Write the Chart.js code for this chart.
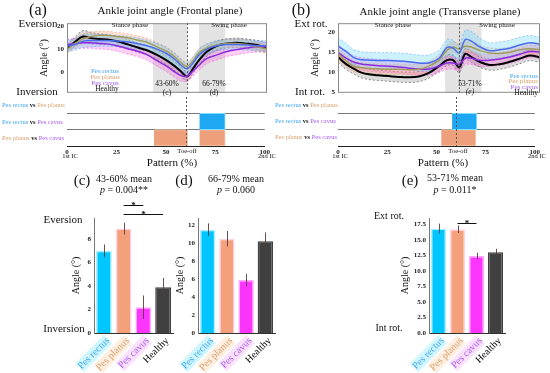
<!DOCTYPE html>
<html>
<head>
<meta charset="utf-8">
<script src="https://cdn.jsdelivr.net/npm/chart.js@4"></script>
<style>
body{margin:0;background:#fff;}
#fig{position:relative;width:550px;height:373px;overflow:hidden;font-family:"Liberation Serif","Times New Roman",serif;}
canvas{position:absolute;}
.t{position:absolute;white-space:nowrap;transform:translate(-50%,-50%);color:#111;line-height:1;}
.l{transform:translate(0,-50%);}
.r{transform:translate(-100%,-50%);}
.s{font-size:6.5px;}
.bl{color:#3da5f2}.or{color:#d9a06e}.pu{color:#a45cf5}
</style>
</head>
<body>
<div id="fig">
  <canvas id="angA" width="236" height="84" style="left:36px;top:16px"></canvas>
  <canvas id="stripA" width="236" height="66" style="left:36px;top:97px"></canvas>
  <canvas id="angB" width="235" height="84" style="left:307px;top:16px"></canvas>
  <canvas id="stripB" width="235" height="66" style="left:307px;top:97px"></canvas>
  <canvas id="barC" width="105" height="178" style="left:70px;top:195px"></canvas>
  <canvas id="barD" width="103" height="178" style="left:174px;top:195px"></canvas>
  <canvas id="barE" width="108" height="178" style="left:399px;top:195px"></canvas>

  <div class="t" style="left:38px;top:10px;font-size:16px">(a)</div>
  <div class="t" style="left:170px;top:10px;font-size:11px">Ankle joint angle (Frontal plane)</div>
  <div class="t" style="left:301px;top:10px;font-size:16px">(b)</div>
  <div class="t" style="left:440px;top:11px;font-size:11px">Ankle joint angle (Transverse plane)</div>
  <div class="t" style="left:38px;top:23px;font-size:11px">Eversion</div>
  <div class="t" style="left:37px;top:91px;font-size:11px">Inversion</div>
  <div class="t" style="left:311px;top:23px;font-size:11px">Ext rot.</div>
  <div class="t" style="left:310px;top:91px;font-size:11px">Int rot.</div>

  <div class="t" style="left:130px;top:25px;font-size:7px">Stance phase</div>
  <div class="t" style="left:229px;top:25px;font-size:7px">Swing phase</div>
  <div class="t" style="left:393px;top:25px;font-size:7px">Stance phase</div>
  <div class="t" style="left:497px;top:25px;font-size:7px">Swing phase</div>

  <div class="t bl" style="left:105px;top:71px;font-size:7px">Pes rectus</div>
  <div class="t or" style="left:105px;top:77px;font-size:7px">Pes planus</div>
  <div class="t pu" style="left:105px;top:83px;font-size:7px">Pes cavus</div>
  <div class="t" style="left:107px;top:89px;font-size:7.5px">Healthy</div>
  <div class="t r bl" style="left:538px;top:76px;font-size:7px">Pes rectus</div>
  <div class="t r or" style="left:538px;top:81px;font-size:7px">Pes planus</div>
  <div class="t r pu" style="left:538px;top:87px;font-size:7px">Pes cavus</div>
  <div class="t r" style="left:538px;top:93px;font-size:7.5px">Healthy</div>

  <div class="t" style="left:167px;top:84px;font-size:7.5px">43-60%</div>
  <div class="t" style="left:167px;top:93px;font-size:7.5px">(c)</div>
  <div class="t" style="left:214px;top:84px;font-size:7.5px">66-79%</div>
  <div class="t" style="left:214px;top:93px;font-size:7.5px">(d)</div>
  <div class="t" style="left:470px;top:84px;font-size:7.5px">53-71%</div>
  <div class="t" style="left:470px;top:92px;font-size:7.5px"><i>(e)</i></div>

  <div class="t l s" style="left:2px;top:105px"><span class="bl">Pes rectus</span> <b>vs</b> <span class="or">Pes planus</span></div>
  <div class="t l s" style="left:2px;top:122px"><span class="bl">Pes rectus</span> <b>vs</b> <span class="pu">Pes cavus</span></div>
  <div class="t l s" style="left:2px;top:138px"><span class="or">Pes planus</span> <b>vs</b> <span class="pu">Pes cavus</span></div>
  <div class="t l s" style="left:275px;top:105px"><span class="bl">Pes rectus</span> <b>vs</b> <span class="or">Pes planus</span></div>
  <div class="t l s" style="left:275px;top:121px"><span class="bl">Pes rectus</span> <b>vs</b> <span class="pu">Pes cavus</span></div>
  <div class="t l s" style="left:275px;top:137px"><span class="or">Pes planus</span> <b>vs</b> <span class="pu">Pes cavus</span></div>

  <div class="t s" style="left:70px;top:156px">1st IC</div>
  <div class="t s" style="left:187px;top:151px">Toe-off</div>
  <div class="t s" style="left:267px;top:156px">2nd IC</div>
  <div class="t s" style="left:340px;top:156px">1st IC</div>
  <div class="t s" style="left:458px;top:151px">Toe-off</div>
  <div class="t s" style="left:537px;top:156px">2nd IC</div>
  <div class="t" style="left:172px;top:162px;font-size:11px">Pattern (%)</div>
  <div class="t" style="left:443px;top:162px;font-size:11px">Pattern (%)</div>

  <div class="t" style="left:82px;top:180px;font-size:15px">(c)</div>
  <div class="t" style="left:124px;top:179px;font-size:10px">43-60% mean</div>
  <div class="t" style="left:124px;top:190px;font-size:10px"><i>p</i> = 0.004**</div>
  <div class="t" style="left:184px;top:180px;font-size:15px">(d)</div>
  <div class="t" style="left:236px;top:179px;font-size:10px">66-79% mean</div>
  <div class="t" style="left:236px;top:190px;font-size:10px"><i>p</i> = 0.060</div>
  <div class="t" style="left:410px;top:180px;font-size:15px">(e)</div>
  <div class="t" style="left:455px;top:178px;font-size:10px">53-71% mean</div>
  <div class="t" style="left:455px;top:190px;font-size:10px"><i>p</i> = 0.011*</div>

  <div class="t" style="left:63px;top:219px;font-size:11px">Eversion</div>
  <div class="t" style="left:64px;top:328px;font-size:11px">Inversion</div>
  <div class="t" style="left:389px;top:216px;font-size:10px">Ext rot.</div>
  <div class="t" style="left:389px;top:328px;font-size:10px">Int rot.</div>
</div>

<script>
// gait cycle samples (% of pattern)
const pct = [0, 4, 8, 12, 16, 20, 25, 30, 35, 40, 45, 50, 54, 57, 60, 63, 66, 70, 75, 80, 85, 90, 95, 100];

// (a) frontal plane, mean and SD
const frontRectus    = [11.5, 12, 13.5, 13.8, 13.8, 13.8, 13.5, 13.2, 12.5, 11.5, 10, 8, 5.5, 3, 1.5, 4, 7.5, 10, 11.5, 12, 12, 11.8, 11.5, 11.5];
const frontRectusSd  = [2.5, 2.5, 2.8, 2.8, 2.6, 2.5, 2.4, 2.4, 2.4, 2.4, 2.5, 2.5, 2.5, 2.4, 2.3, 2.5, 2.5, 2.3, 2.2, 2.2, 2.2, 2.2, 2.3, 2.4];
const frontPlanus    = [9.8, 12.5, 14.5, 15.5, 16, 16, 15.5, 15, 14, 13, 11, 9, 6.5, 4, 2.5, 5, 8.5, 10.5, 11.8, 12.5, 12.5, 12, 11, 10];
const frontPlanusSd  = [1.8, 2, 2.2, 2, 1.9, 1.8, 1.8, 1.8, 1.8, 1.8, 1.8, 1.8, 1.8, 1.8, 1.8, 1.8, 1.8, 1.8, 1.8, 1.9, 2, 2, 2, 1.9];
const frontCavus     = [12, 12.5, 12.8, 12.8, 12.5, 12.3, 11.5, 10.3, 9.2, 7.6, 5, 2.5, 0, -1.5, -1.8, 0.5, 3, 6, 7.5, 9, 9.8, 10.5, 11, 11];
const frontCavusSd   = [2.2, 2.2, 2.4, 2.4, 2.4, 2.4, 2.4, 2.4, 2.4, 2.4, 2.4, 2.4, 2.4, 2.4, 2.2, 2.2, 2.2, 2.2, 2.2, 2.2, 2.2, 2.2, 2.2, 2.2];
const frontHealthy   = [10.2, 13.2, 15.5, 14.8, 14.4, 14.2, 13.4, 12.2, 10.8, 9.5, 7.5, 5, 2.5, 0.3, -1.9, 1.5, 5.2, 9, 11.5, 12.5, 12.8, 12.4, 11.8, 10.7];
const frontHealthySd = [1.8, 2, 2.6, 2.5, 2.3, 2.2, 2.1, 2, 2, 2, 2, 2, 2, 2, 2, 2, 2, 2, 2, 2, 2, 2, 2, 2];

// (b) transverse plane, mean and SD
const transRectus    = [16.6, 15.2, 13.6, 13.1, 13, 12.9, 12.9, 12.8, 12.6, 12.3, 12.3, 13.5, 16.2, 16, 14.8, 18.2, 17.8, 16.4, 15.4, 15.6, 16, 16.8, 17.4, 17];
const transRectusSd  = [2, 2, 2, 2, 2, 2, 2, 2, 2, 2, 2, 2, 2, 2, 2, 2.3, 2.4, 2.2, 2, 2, 2, 2, 1.8, 1.8];
const transPlanus    = [14.7, 12.8, 11.4, 11.1, 10.9, 10.8, 10.7, 10.7, 10.6, 10.7, 11.5, 13, 15.5, 16.3, 15.8, 16.5, 16.3, 15.5, 14.8, 14.7, 15, 15.6, 15.9, 15.6];
const transPlanusSd  = [1.4, 1.4, 1.3, 1.3, 1.3, 1.3, 1.3, 1.3, 1.3, 1.3, 1.3, 1.4, 1.4, 1.4, 1.4, 1.4, 1.4, 1.4, 1.3, 1.3, 1.3, 1.3, 1.3, 1.3];
const transCavus     = [15, 13.5, 12.5, 12, 11.8, 11.6, 11.5, 11.3, 11, 10.8, 10.8, 11.5, 12.3, 12.3, 12, 13.5, 13.5, 13, 13, 13.3, 13.8, 14.5, 15.2, 15];
const transCavusSd   = [1.6, 1.6, 1.6, 1.6, 1.6, 1.6, 1.6, 1.6, 1.6, 1.6, 1.6, 1.6, 1.6, 1.6, 1.6, 1.6, 1.6, 1.6, 1.6, 1.6, 1.6, 1.6, 1.6, 1.6];
const transHealthy   = [13.8, 12, 10.8, 9.8, 9.4, 9.2, 9, 8.8, 8.7, 8.9, 9.8, 11.5, 13, 13, 11.2, 14.6, 13.8, 12.6, 11.8, 12, 12.6, 13.4, 14.2, 13.7];
const transHealthySd = [1.3, 1.3, 1.3, 1.3, 1.3, 1.3, 1.3, 1.3, 1.3, 1.3, 1.3, 1.3, 1.3, 1.3, 1.3, 1.3, 1.3, 1.3, 1.3, 1.3, 1.3, 1.3, 1.3, 1.3];

const frontTicks = [0, 10, 20];
const transTicks = [5, 10, 15, 20];
const patternTicks = [0, 25, 50, 75, 100];
const toeOff = 60;
const frontShade = [[43, 60], [66, 79]];
const transShade = [[53, 71]];

// significance strips (SPM clusters, % of pattern)
const stripRows = ['Pes rectus vs Pes planus', 'Pes rectus vs Pes cavus', 'Pes planus vs Pes cavus'];
const frontRectusVsCavus = [[67, 80]];
const frontPlanusVsCavus = [[44, 61], [67, 80]];
const transRectusVsCavus = [[58, 70.5]];
const transPlanusVsCavus = [[52.5, 70]];

// bar panels
const groups = ['Pes rectus', 'Pes planus', 'Pes cavus', 'Healthy'];
const meanC = [7.0, 8.9, 2.2, 3.9];
const errC  = [0.55, 0.5, 1.0, 0.8];
const meanD = [11.5, 10.5, 5.9, 10.2];
const errD  = [0.7, 0.85, 0.7, 1.0];
const meanE = [16.8, 16.7, 12.4, 13.0];
const errE  = [0.8, 0.6, 0.5, 0.55];
const ticksC = [0, 2, 4, 6, 8];
const ticksD = [0, 2, 4, 6, 8, 10, 12];
const ticksE = [0, 2.5, 5, 7.5, 10, 12.5, 15, 17.5];
const sigC = [[1, 2, '*'], [1, 3, '*']];
const sigE = [[1, 2, '*']];

const serif = '"Liberation Serif", "Times New Roman", serif';
const lineColor = ['#4a6cf0', '#a39a5c', '#8a2be2', '#000000'];
const bandColor = ['rgba(110,215,255,0.35)', 'rgba(250,165,120,0.32)', 'rgba(255,70,220,0.26)', 'rgba(140,140,140,0.3)'];
const edgeColor = ['rgba(70,150,240,0.7)', 'rgba(220,150,110,0.7)', 'rgba(230,80,220,0.7)', '#555'];
const textColor = ['#3da5f2', '#d9a06e', '#a45cf5', '#000000'];
const barFill = ['#00c6ff', '#f3a07b', '#fb35fb', '#404040'];
const barGlow = ['#a8f0ff', '#ffd2e6', '#ffa8ff', '#404040'];
const labelBack = ['rgba(170,240,255,0.55)', 'rgba(255,225,200,0.55)', 'rgba(250,200,255,0.55)', 'rgba(0,0,0,0)'];

Chart.defaults.font.family = serif;

function pts(vals) {
  return pct.map((p, i) => ({ x: p, y: vals[i] }));
}

function angleChart(id, means, sds, yMin, yMax, yTicks, shades) {
  const lines = [];
  const bands = [];
  means.forEach((m, g) => {
    lines.push({
      data: pts(m), borderColor: lineColor[g], borderWidth: g === 3 ? 2 : 1.5,
      pointRadius: 0, tension: 0.35, fill: false, order: 0
    });
    bands.push({
      data: pts(m.map((v, i) => v + sds[g][i])), borderColor: edgeColor[g], borderWidth: 0.7,
      borderDash: [2, 2], backgroundColor: bandColor[g], pointRadius: 0, tension: 0.35, fill: '+1', order: 1
    });
    bands.push({
      data: pts(m.map((v, i) => v - sds[g][i])), borderColor: edgeColor[g], borderWidth: 0.7,
      borderDash: [2, 2], pointRadius: 0, tension: 0.35, fill: false, order: 1
    });
  });
  // bands first so that the '+1' fill indices stay paired
  const datasets = bands.concat(lines);

  const decor = {
    id: 'decor' + id,
    beforeDatasetsDraw(chart) {
      const { ctx, chartArea: a, scales: { x } } = chart;
      ctx.save();
      ctx.fillStyle = '#e3e3e3';
      shades.forEach(s => {
        const x0 = x.getPixelForValue(s[0]), x1 = x.getPixelForValue(s[1]);
        ctx.fillRect(x0, a.top, x1 - x0, a.bottom - a.top);
      });
      ctx.restore();
    },
    afterDraw(chart) {
      const { ctx, chartArea: a, scales: { x } } = chart;
      ctx.save();
      ctx.strokeStyle = '#8a8a8a';
      ctx.lineWidth = 1;
      ctx.strokeRect(a.left + 0.5, a.top + 0.5, a.right - a.left - 1, a.bottom - a.top - 1);
      ctx.setLineDash([2, 2]);
      ctx.strokeStyle = '#555';
      const tx = Math.round(x.getPixelForValue(toeOff)) + 0.5;
      ctx.beginPath();
      ctx.moveTo(tx, a.top);
      ctx.lineTo(tx, a.bottom);
      ctx.stroke();
      ctx.restore();
    }
  };

  return new Chart(document.getElementById(id), {
    type: 'line',
    data: { datasets: datasets },
    options: {
      responsive: false,
      animation: false,
      layout: { padding: { top: 6, bottom: 3, right: id === 'angA' ? 5 : 2, left: 0 } },
      plugins: { legend: { display: false }, tooltip: { enabled: false } },
      scales: {
        x: { type: 'linear', min: 0, max: 100, display: false },
        y: {
          min: yMin, max: yMax,
          afterFit: s => { s.width = 31; },
          afterBuildTicks: s => { s.ticks = yTicks.map(v => ({ value: v })); },
          grid: { display: false, drawTicks: false },
          border: { display: false },
          ticks: { font: { size: 7, weight: 'bold' }, color: '#222', padding: 3 },
          title: { display: true, text: 'Angle (°)', font: { size: 10 }, color: '#111', padding: { top: 2, bottom: 0 } }
        }
      }
    },
    plugins: [decor]
  });
}

function stripChart(id, rectusCavus, planusCavus, padRight) {
  const datasets = [];
  rectusCavus.forEach(r => {
    datasets.push({ data: [null, r, null], backgroundColor: '#1fa8f2', borderColor: '#7fdcff', borderWidth: 1 });
  });
  planusCavus.forEach(r => {
    datasets.push({ data: [null, null, r], backgroundColor: '#eea07c', borderColor: '#f6c6a8', borderWidth: 1 });
  });

  const toe = {
    id: 'toe' + id,
    afterDraw(chart) {
      const { ctx, chartArea: a, scales: { x } } = chart;
      ctx.save();
      ctx.setLineDash([2, 2]);
      ctx.strokeStyle = '#555';
      const tx = Math.round(x.getPixelForValue(toeOff)) + 0.5;
      ctx.beginPath();
      ctx.moveTo(tx, a.top);
      ctx.lineTo(tx, a.bottom);
      ctx.stroke();
      ctx.restore();
    }
  };

  return new Chart(document.getElementById(id), {
    type: 'bar',
    data: { labels: stripRows, datasets: datasets },
    options: {
      indexAxis: 'y',
      responsive: false,
      animation: false,
      layout: { padding: { top: 0, bottom: 0, right: padRight, left: 0 } },
      plugins: { legend: { display: false }, tooltip: { enabled: false } },
      datasets: { bar: { grouped: false, barPercentage: 1, categoryPercentage: 1 } },
      scales: {
        x: {
          type: 'linear', min: 0, max: 100,
          afterBuildTicks: s => { s.ticks = patternTicks.map(v => ({ value: v })); },
          afterFit: s => { s.height = 17; },
          grid: { display: false, drawTicks: false },
          border: { color: '#222', width: 1 },
          ticks: { font: { size: 7, weight: 'bold' }, color: '#222', padding: 2, maxRotation: 0, autoSkip: false }
        },
        y: {
          afterFit: s => { s.width = 31; },
          grid: { color: '#555', lineWidth: 0.8, offset: true, drawTicks: false },
          border: { display: false },
          ticks: { display: false }
        }
      }
    },
    plugins: [toe]
  });
}

function barChart(id, means, errs, yMax, yTicks, yWidth, sig, sigOffsets) {
  const marks = {
    id: 'marks' + id,
    afterDatasetsDraw(chart) {
      const { ctx, chartArea: a, scales: { y } } = chart;
      const meta = chart.getDatasetMeta(0);
      ctx.save();
      ctx.strokeStyle = '#5a3a3a';
      ctx.lineWidth = 0.9;
      means.forEach((m, i) => {
        const bx = Math.round(meta.data[i].x) + 0.5;
        ctx.beginPath();
        ctx.moveTo(bx, y.getPixelForValue(m + errs[i]));
        ctx.lineTo(bx, y.getPixelForValue(m - errs[i]));
        ctx.stroke();
      });
      ctx.strokeStyle = '#111';
      ctx.lineWidth = 1;
      ctx.fillStyle = '#111';
      ctx.font = 'bold 9px ' + serif;
      ctx.textAlign = 'center';
      sig.forEach((s, k) => {
        const x0 = meta.data[s[0]].x, x1 = meta.data[s[1]].x;
        const ly = Math.round(a.top + sigOffsets[k]) + 0.5;
        ctx.beginPath();
        ctx.moveTo(x0, ly);
        ctx.lineTo(x1, ly);
        ctx.stroke();
        ctx.fillText(s[2], (x0 + x1) / 2, ly + 2);
      });
      ctx.restore();
    }
  };

  return new Chart(document.getElementById(id), {
    type: 'bar',
    data: {
      labels: groups,
      datasets: [{
        data: means, backgroundColor: barFill, borderColor: barGlow, borderWidth: 1.5,
        barPercentage: 0.8, categoryPercentage: 1
      }]
    },
    options: {
      responsive: false,
      animation: false,
      layout: { padding: { top: 23, bottom: 0, right: 2, left: 0 } },
      plugins: { legend: { display: false }, tooltip: { enabled: false } },
      scales: {
        x: {
          afterFit: s => { s.height = 40; },
          grid: { display: false, drawTicks: false },
          border: { color: '#333' },
          ticks: {
            color: c => textColor[c.index],
            autoSkip: false,
            minRotation: 45, maxRotation: 45, padding: 2,
            font: { size: 10 },
            showLabelBackdrop: true,
            backdropColor: c => labelBack[c.index],
            backdropPadding: 0
          }
        },
        y: {
          min: 0, max: yMax,
          afterFit: s => { s.width = yWidth; },
          afterBuildTicks: s => { s.ticks = yTicks.map(v => ({ value: v })); },
          grid: { display: false, drawTicks: false },
          border: { color: '#777' },
          ticks: {
            font: { size: 7, weight: 'bold' }, color: '#222', padding: 3,
            callback: v => (yTicks === ticksE ? v.toFixed(1) : v)
          },
          title: { display: true, text: 'Angle (°)', font: { size: 10 }, color: '#111', padding: { top: 0, bottom: 0 } }
        }
      }
    },
    plugins: [marks]
  });
}

angleChart('angA', [frontRectus, frontPlanus, frontCavus, frontHealthy],
  [frontRectusSd, frontPlanusSd, frontCavusSd, frontHealthySd], -9, 21.3, frontTicks, frontShade);
angleChart('angB', [transRectus, transPlanus, transCavus, transHealthy],
  [transRectusSd, transPlanusSd, transCavusSd, transHealthySd], 4.8, 22.3, transTicks, transShade);
stripChart('stripA', frontRectusVsCavus, frontPlanusVsCavus, 5);
stripChart('stripB', transRectusVsCavus, transPlanusVsCavus, 2);
barChart('barC', meanC, errC, 9.8, ticksC, 24, sigC, [-13, -4]);
barChart('barD', meanD, errD, 12.8, ticksD, 24, [], []);
barChart('barE', meanE, errE, 18.5, ticksE, 30, sigE, [5]);
</script>
</body>
</html>
